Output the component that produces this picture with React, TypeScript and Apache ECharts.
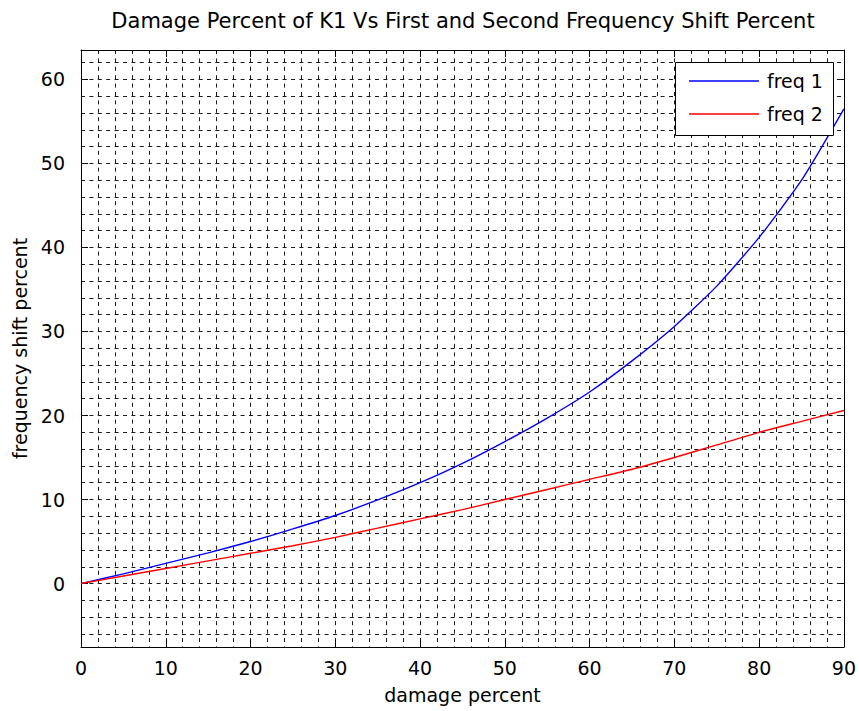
import { useEffect, useRef } from "react";
import * as echarts from "echarts";

// Damage of K1 (%) against the resulting shift of the first two natural frequencies (%)
const damagePercent = [0, 5, 10, 15, 20, 25, 30, 35, 40, 45, 50, 55, 60, 65, 70, 75, 80, 85, 90];
const freq1Shift = [0, 1.15, 2.4, 3.65, 5.0, 6.5, 8.1, 9.95, 12.0, 14.3, 16.9, 19.7, 22.8, 26.5, 30.6, 35.4, 41.2, 48.0, 56.5];
const freq2Shift = [0, 0.9, 1.8, 2.7, 3.6, 4.5, 5.5, 6.6, 7.7, 8.8, 10.0, 11.2, 12.4, 13.6, 15.0, 16.5, 18.0, 19.3, 20.6];

const seriesNames = ["freq 1", "freq 2"];
const seriesColors = ["#0000ff", "#ff0000"];
const yTickValues = [0, 10, 20, 30, 40, 50, 60];
const yGridValues = [-6, -4, -2, 0, 2, 4, 6, 8, 10, 12, 14, 16, 18, 20, 22, 24, 26, 28, 30, 32, 34, 36, 38, 40, 42, 44, 46, 48, 50, 52, 54, 56, 58, 60, 62];

const X_MIN = 0;
const X_MAX = 90;
const Y_MIN = -7.55;
const Y_MAX = 63.5;

const FONT = "DejaVu Sans";
const GRID_DASH = { type: [4, 4.4] as number[], color: "#1a1a1a", width: 1 };

// boxed legend in the upper-right corner of the axes
function legendGraphic() {
  const boxX = 675;
  const boxY = 62;
  const rowY = [81, 114];
  const z = 100;
  const children: any[] = [
    {
      type: "rect",
      z,
      shape: { x: boxX + 0.5, y: boxY + 0.5, width: 158, height: 73 },
      style: { fill: "#fff", stroke: "#000", lineWidth: 1 },
    },
  ];
  seriesNames.forEach((name, i) => {
    children.push({
      type: "line",
      z: z + 1,
      shape: { x1: 689, y1: rowY[i], x2: 759, y2: rowY[i] },
      style: { stroke: seriesColors[i], lineWidth: 1.3 },
    });
    children.push({
      type: "text",
      z: z + 1,
      x: 767,
      y: rowY[i],
      style: {
        text: name,
        fontFamily: FONT,
        fontSize: 19,
        fill: "#000",
        textAlign: "left",
        textVerticalAlign: "middle",
      },
    });
  });
  return { type: "group", z, children };
}

export default function App() {
  const ref = useRef<HTMLDivElement>(null);

  useEffect(() => {
    if (!ref.current) return;
    const chart = echarts.init(ref.current, null, { renderer: "svg" });

    const axisLine = { show: true, onZero: false, lineStyle: { color: "#000", width: 1 } };

    chart.setOption({
      animation: false,
      backgroundColor: "#fff",
      textStyle: { fontFamily: FONT },
      grid: { left: 81, right: 14, top: 50, bottom: 64, containLabel: false },
      graphic: [
        {
          type: "text",
          x: 463,
          y: 21,
          style: {
            text: "Damage Percent of K1 Vs First and Second Frequency Shift Percent",
            fontFamily: FONT,
            fontSize: 21,
            fill: "#000",
            textAlign: "center",
            textVerticalAlign: "middle",
          },
        },
        legendGraphic(),
      ],
      xAxis: [
        {
          type: "value",
          min: X_MIN,
          max: X_MAX,
          interval: 10,
          name: "damage percent",
          nameLocation: "middle",
          nameGap: 38,
          nameTextStyle: { fontFamily: FONT, fontSize: 19, color: "#000" },
          axisLine,
          axisTick: { show: true, inside: true, length: 7, lineStyle: { color: "#000" } },
          axisLabel: { fontFamily: FONT, fontSize: 19, color: "#000", margin: 11 },
          splitLine: { show: true, lineStyle: GRID_DASH },
          minorTick: { show: false, splitNumber: 5 },
          minorSplitLine: { show: true, lineStyle: GRID_DASH },
        },
        {
          type: "value",
          position: "top",
          min: X_MIN,
          max: X_MAX,
          interval: 10,
          axisLine,
          axisTick: { show: true, inside: true, length: 7, lineStyle: { color: "#000" } },
          axisLabel: { show: false },
          splitLine: { show: false },
        },
      ],
      yAxis: [
        {
          type: "value",
          min: Y_MIN,
          max: Y_MAX,
          name: "frequency shift percent",
          nameLocation: "middle",
          nameGap: 52,
          nameRotate: 90,
          nameTextStyle: { fontFamily: FONT, fontSize: 19, color: "#000" },
          axisLine,
          axisTick: { show: true, inside: true, length: 7, lineStyle: { color: "#000" }, customValues: yTickValues },
          axisLabel: { fontFamily: FONT, fontSize: 19, color: "#000", margin: 16, customValues: yTickValues },
          splitLine: { show: false },
        },
        {
          type: "value",
          position: "right",
          min: Y_MIN,
          max: Y_MAX,
          axisLine,
          axisTick: { show: true, inside: true, length: 7, lineStyle: { color: "#000" }, customValues: yTickValues },
          axisLabel: { show: false, customValues: yTickValues },
          splitLine: { show: false },
        },
      ],
      series: [
        {
          // horizontal dotted grid, every 2 %
          type: "line",
          data: [],
          silent: true,
          z: 1,
          markLine: {
            z: 1,
            silent: true,
            symbol: ["none", "none"],
            label: { show: false },
            emphasis: { disabled: true },
            lineStyle: GRID_DASH,
            data: yGridValues.map((v) => ({ yAxis: v })),
          },
        },
        ...seriesNames.map((name, i) => ({
          name,
          type: "line",
          data: damagePercent.map((d, k) => [d, (i === 0 ? freq1Shift : freq2Shift)[k]]),
          symbol: "none",
          smooth: 0.2,
          z: 3,
          lineStyle: { color: seriesColors[i], width: 1.4 },
          itemStyle: { color: seriesColors[i] },
        })),
      ],
    });

    return () => chart.dispose();
  }, []);

  return (
    <div
      ref={ref}
      style={{ position: "fixed", left: 0, top: 0, width: 859, height: 711, background: "#fff" }}
    />
  );
}
